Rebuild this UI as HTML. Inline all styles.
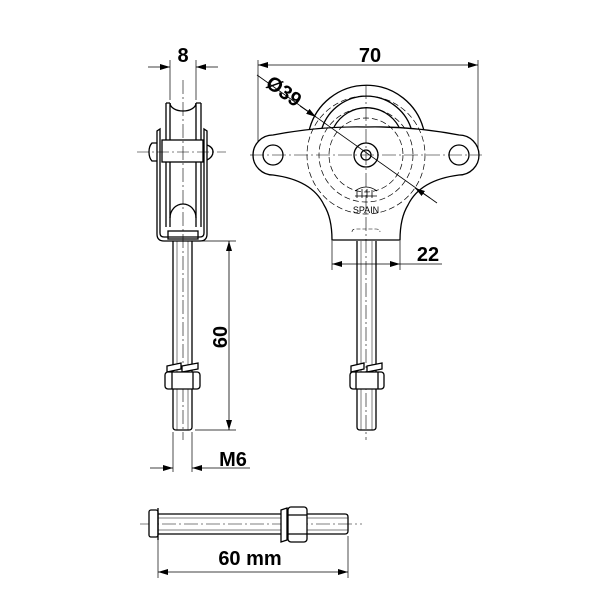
<!DOCTYPE html>
<html><head><style>body{margin:0;background:#fff}svg{display:block}</style></head><body>
<svg width="600" height="600" viewBox="0 0 600 600" xmlns="http://www.w3.org/2000/svg" font-family="Liberation Sans, sans-serif" font-weight="bold">
<defs>
<marker id="a" viewBox="0 0 10 6" refX="10" refY="3" markerWidth="10" markerHeight="6" orient="auto-start-reverse" markerUnits="userSpaceOnUse"><path d="M0,0 L10,3 L0,6z" fill="#000"/></marker>
</defs>
<g fill="none" stroke="#000" stroke-width="1.3">
<line x1="170" y1="60" x2="170" y2="100" stroke-width="0.7"/>
<line x1="196" y1="60" x2="196" y2="100" stroke-width="0.7"/>
<line x1="148" y1="67" x2="170" y2="67" stroke-width="0.8" marker-end="url(#a)"/>
<line x1="218" y1="67" x2="196" y2="67" stroke-width="0.8" marker-end="url(#a)"/>
<path d="M166,103 V227 M170,103 V227 M196,103 V227 M201,103 V227"/>
<path d="M166,103 H170 M196,103 H201"/>
<path d="M170,103 A13,8 0 0 0 196,103"/>
<path d="M170,218 A13,14 0 0 1 196,218"/>
<path d="M157,131 V234 Q157,241 164,241 H200 Q207,241 207,234 V131 L204,129 V233 Q204,237 200,237 H164 Q160,237 160,233 V129 Z"/>
<rect x="162" y="140" width="41" height="22" fill="#fff"/>
<path d="M157,143 H152 Q149,146 149,152 Q149,158 152,161 H157"/>
<path d="M207,145 Q213,147 213,152 Q213,157 207,160"/>
<rect x="168" y="231" width="30" height="8"/>
<line x1="137" y1="152" x2="226" y2="152" stroke-width="0.6" stroke-dasharray="12,3,2,3"/>
<line x1="183" y1="80" x2="183" y2="440" stroke-width="0.6" stroke-dasharray="14,3,2,3"/>
<path d="M173,241 V427 Q173,430 176,430 H189 Q192,430 192,427 V241"/>
<path d="M177,241 V430 M188,241 V430" stroke-width="0.5"/>
<path d="M167,366 L181,363 L181,369 L167,372Z M182,366 L198,363 L198,369 L182,372Z" fill="#fff"/>
<rect x="165" y="372" width="35" height="17" rx="3" fill="#fff"/>
<line x1="172" y1="372" x2="172" y2="389"/><line x1="193" y1="372" x2="193" y2="389"/>
<line x1="198" y1="241" x2="236" y2="241" stroke-width="0.7"/>
<line x1="195" y1="430" x2="236" y2="430" stroke-width="0.7"/>
<line x1="229" y1="241" x2="229" y2="430" stroke-width="0.8" marker-start="url(#a)" marker-end="url(#a)"/>
<line x1="173" y1="432" x2="173" y2="472" stroke-width="0.7"/>
<line x1="192" y1="432" x2="192" y2="472" stroke-width="0.7"/>
<line x1="150" y1="468" x2="173" y2="468" stroke-width="0.8" marker-end="url(#a)"/>
<line x1="250" y1="468" x2="192" y2="468" stroke-width="0.8" marker-end="url(#a)"/>

<line x1="258" y1="60" x2="258" y2="150" stroke-width="0.7"/>
<line x1="478" y1="60" x2="478" y2="150" stroke-width="0.7"/>
<line x1="258" y1="65" x2="478" y2="65" stroke-width="0.8" marker-start="url(#a)" marker-end="url(#a)"/>
<path d="M309,131 A59,59 0 0 1 424,131"/>
<path d="M322,128 A47,47 0 0 1 411,128"/>
<path d="M334,127 A37,37 0 0 1 399,127"/>
<path d="M273,135 Q320,126 366,127 Q412,126 459,135 A20,20 0 0 1 459,175 Q420,180 408,205 Q400,218 400,240 H332 Q332,218 324,205 Q312,180 273,175 A20,20 0 0 1 273,135Z" fill="#fff"/>
<circle cx="273" cy="155" r="10"/><circle cx="459" cy="155" r="10"/>
<circle cx="366" cy="155" r="12"/><circle cx="366" cy="155" r="5"/>
<circle cx="366" cy="155" r="59" stroke-width="0.7" stroke-dasharray="6,3"/>
<circle cx="366" cy="155" r="47" stroke-width="0.7" stroke-dasharray="6,3"/>
<circle cx="366" cy="155" r="37" stroke-width="0.7" stroke-dasharray="6,3"/>
<line x1="250" y1="155" x2="482" y2="155" stroke-width="0.6" stroke-dasharray="14,3,2,3"/>
<line x1="366" y1="85" x2="366" y2="440" stroke-width="0.6" stroke-dasharray="14,3,2,3"/>
<line x1="257" y1="75" x2="437" y2="203" stroke-width="0.8"/>
<line x1="300" y1="106" x2="316" y2="117" stroke-width="0.8" marker-end="url(#a)"/>
<line x1="430" y1="198" x2="415" y2="188" stroke-width="0.8" marker-end="url(#a)"/>
<path d="M352,232 Q352,229 356,229 H376 Q380,229 380,232" stroke-width="0.6" stroke-dasharray="4,2"/>
<path d="M355,191 Q366,183 377,191 M355,196 H377 M357,191 V198 M362,189 V198 M367,189 V198 M372,190 V198" stroke-width="0.8"/>
<path d="M357,241 V427 Q357,430 360,430 H373 Q376,430 376,427 V241"/>
<path d="M361,241 V430 M372,241 V430" stroke-width="0.5"/>
<path d="M351,366 L364,363 L364,369 L351,372Z M367,366 L382,363 L382,369 L367,372Z" fill="#fff"/>
<rect x="350" y="372" width="34" height="17" rx="3" fill="#fff"/>
<line x1="356" y1="372" x2="356" y2="389"/><line x1="378" y1="372" x2="378" y2="389"/>
<line x1="332" y1="241" x2="332" y2="270" stroke-width="0.7"/>
<line x1="400" y1="241" x2="400" y2="270" stroke-width="0.7"/>
<line x1="332" y1="264" x2="400" y2="264" stroke-width="0.8" marker-start="url(#a)" marker-end="url(#a)"/>
<line x1="400" y1="264" x2="442" y2="264" stroke-width="0.8"/>

<line x1="140" y1="524" x2="362" y2="524" stroke-width="0.6" stroke-dasharray="14,3,2,3"/>
<rect x="149" y="510" width="9" height="27" rx="2" fill="#fff"/>
<line x1="158" y1="508" x2="158" y2="540"/>
<path d="M158,514 H345 Q348,514 348,517 V531 Q348,534 345,534 H158"/>
<path d="M158,518 H348 M158,530 H348" stroke-width="0.5"/>
<path d="M281,510 L287,508 L287,540 L281,542Z" fill="#fff"/>
<rect x="288" y="507" width="19" height="35" rx="3" fill="#fff"/>
<line x1="288" y1="515" x2="307" y2="515"/><line x1="288" y1="534" x2="307" y2="534"/>
<line x1="158" y1="540" x2="158" y2="578" stroke-width="0.7"/>
<line x1="348" y1="536" x2="348" y2="578" stroke-width="0.7"/>
<line x1="158" y1="572" x2="348" y2="572" stroke-width="0.8" marker-start="url(#a)" marker-end="url(#a)"/>
</g>
<g font-size="20" fill="#000">
<text x="183" y="62" text-anchor="middle">8</text>
<text x="370" y="62" text-anchor="middle">70</text>
<text x="284" y="98" transform="rotate(35 284 91)" text-anchor="middle">Ø39</text>
<text x="428" y="261" text-anchor="middle">22</text>
<text x="227" y="337" transform="rotate(-90 227 337)" text-anchor="middle">60</text>
<text x="233" y="466" text-anchor="middle">M6</text>
<text x="250" y="565" text-anchor="middle">60 mm</text>
</g>
<text x="366" y="213" font-size="9" font-weight="normal" text-anchor="middle">SPAIN</text>
</svg>
</body></html>
